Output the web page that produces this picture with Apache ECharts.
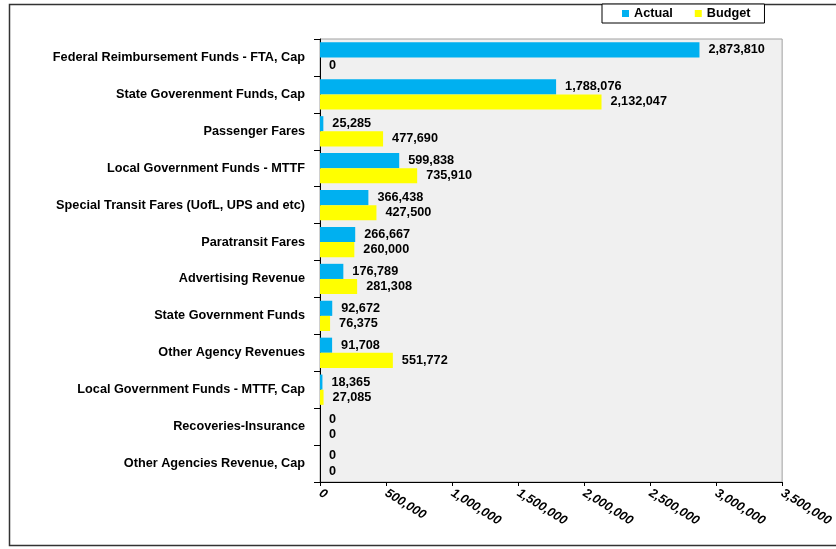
<!DOCTYPE html>
<html>
<head>
<meta charset="utf-8">
<script src="https://cdn.jsdelivr.net/npm/echarts@6/dist/echarts.min.js"></script>
<style>html,body{margin:0;padding:0;background:#fff;}#c{width:836px;height:549px;}</style>
</head>
<body>
<div id="c"></div>
<script>
const categories = [
  "Federal Reimbursement Funds - FTA, Cap",
  "State Goverenment Funds, Cap",
  "Passenger Fares",
  "Local Government Funds - MTTF",
  "Special Transit Fares (UofL, UPS and etc)",
  "Paratransit Fares",
  "Advertising Revenue",
  "State Government Funds",
  "Other Agency Revenues",
  "Local Government Funds - MTTF, Cap",
  "Recoveries-Insurance",
  "Other Agencies Revenue, Cap"
];
const actual = [2873810, 1788076, 25285, 599838, 366438, 266667, 176789, 92672, 91708, 18365, 0, 0];
const budget = [0, 2132047, 477690, 735910, 427500, 260000, 281308, 76375, 551772, 27085, 0, 0];
const xTicks = { min: 0, max: 3500000, interval: 500000 };

const fmt = v => Number(v).toLocaleString('en-US');
const font = '"Liberation Sans", Arial, sans-serif';
const fs = 12.7;
const chart = echarts.init(document.getElementById('c'));
const labelCfg = {
  show: true, position: 'right', distance: 9,
  fontFamily: font, fontWeight: 'bold', fontSize: fs, color: '#000',
  formatter: p => fmt(p.value)
};
chart.setOption({
  animation: false,
  graphic: [{
    type: 'rect', shape: { x: 9.5, y: 4.5, width: 840, height: 541 },
    style: { fill: 'none', stroke: '#333', lineWidth: 1.5 }, z: -10
  }],
  legend: {
    left: 602, top: 4,
    padding: [3, 14, 3, 20],
    itemGap: 22, itemWidth: 7, itemHeight: 7, icon: 'rect',
    backgroundColor: '#fff', borderColor: '#000', borderWidth: 1,
    textStyle: { fontFamily: font, fontWeight: 'bold', fontSize: fs, color: '#000' },
    data: ['Actual', 'Budget']
  },
  grid: {
    left: 320, right: 53, top: 39, bottom: 67,
    show: true, backgroundColor: '#F0F0F0', borderColor: '#A0A0A0', borderWidth: 1
  },
  xAxis: {
    type: 'value', min: xTicks.min, max: xTicks.max, interval: xTicks.interval,
    splitLine: { show: false },
    axisLine: { show: true, lineStyle: { color: '#000', width: 1 } },
    axisTick: { show: true, length: 4, lineStyle: { color: '#000' } },
    axisLabel: {
      rotate: -32, margin: 10, fontFamily: font, fontWeight: 'bold', fontStyle: 'italic',
      fontSize: fs, color: '#000', formatter: v => fmt(v)
    }
  },
  yAxis: {
    type: 'category', data: categories, inverse: true,
    axisLine: { show: true, lineStyle: { color: '#000', width: 1 } },
    axisTick: { show: true, length: 6, lineStyle: { color: '#000' } },
    axisLabel: { margin: 15, fontFamily: font, fontWeight: 'bold', fontSize: fs, color: '#000' }
  },
  series: [
    { name: 'Actual', type: 'bar', data: actual, barGap: '0%', barCategoryGap: '18%',
      itemStyle: { color: '#00B0F0' }, label: labelCfg },
    { name: 'Budget', type: 'bar', data: budget, barGap: '0%', barCategoryGap: '18%',
      itemStyle: { color: '#FFFF00' }, label: labelCfg }
  ]
});
</script>
</body>
</html>
